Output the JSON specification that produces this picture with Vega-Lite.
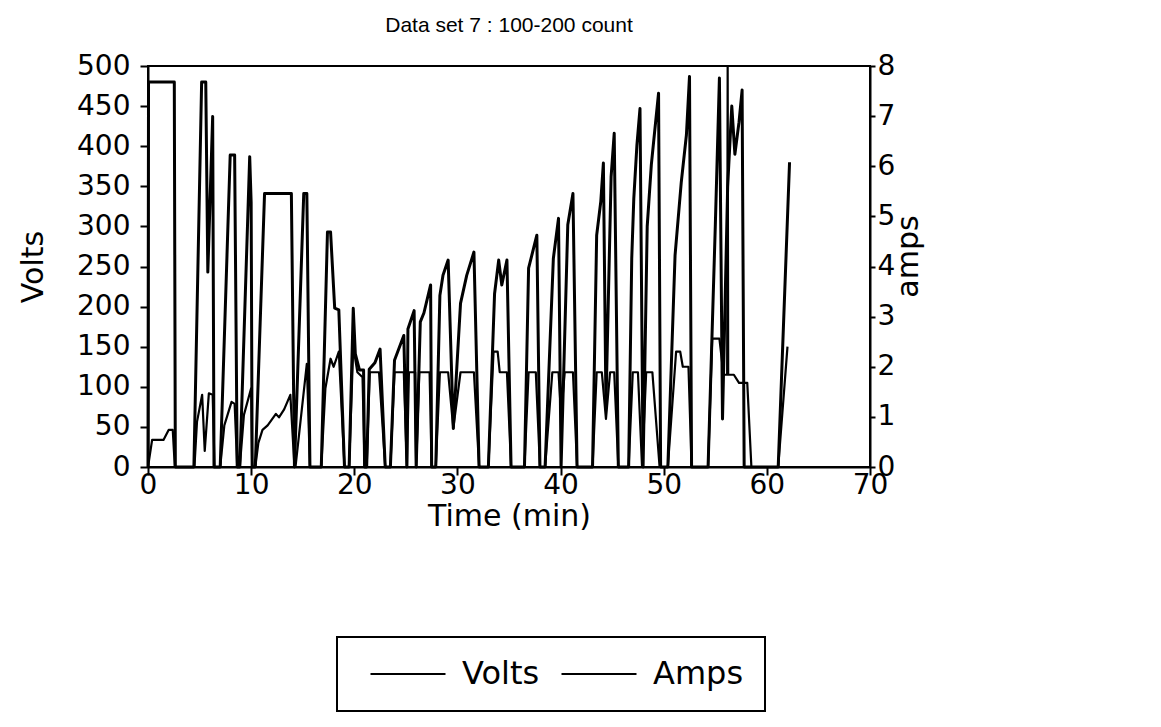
{
  "$schema": "https://vega.github.io/schema/vega-lite/v6.json",
  "width": 722,
  "height": 401,
  "autosize": {"type": "none"},
  "padding": {"left": 148, "top": 66, "right": 291, "bottom": 260},
  "background": "white",
  "config": {
    "font": "DejaVu Sans",
    "view": {"stroke": "black", "strokeWidth": 2},
    "axis": {
      "grid": false,
      "domainColor": "black",
      "domainWidth": 2,
      "tickColor": "black",
      "tickWidth": 2,
      "labelColor": "black",
      "titleColor": "black",
      "labelFont": "DejaVu Sans",
      "titleFont": "DejaVu Sans",
      "labelFontSize": 28,
      "titleFontSize": 30,
      "titleFontWeight": "normal"
    }
  },
  "title": {
    "text": "Data set 7 : 100-200 count",
    "fontSize": 21,
    "fontWeight": "normal",
    "font": "Liberation Sans",
    "color": "black",
    "anchor": "middle",
    "offset": 16
  },
  "datasets": {
    "volts": [
      {"t": 0, "v": 0}, {"t": 0.05, "v": 480}, {"t": 2.55, "v": 480}, {"t": 2.65, "v": 0},
      {"t": 4.45, "v": 0}, {"t": 5.2, "v": 480}, {"t": 5.6, "v": 480}, {"t": 5.8, "v": 243}, {"t": 6.27, "v": 437}, {"t": 6.4, "v": 0},
      {"t": 7.0, "v": 0}, {"t": 7.97, "v": 389}, {"t": 8.4, "v": 389}, {"t": 8.65, "v": 0},
      {"t": 8.9, "v": 0}, {"t": 9.86, "v": 387}, {"t": 10.0, "v": 330}, {"t": 10.1, "v": 0},
      {"t": 10.4, "v": 0}, {"t": 11.3, "v": 341}, {"t": 13.9, "v": 341}, {"t": 14.2, "v": 0},
      {"t": 15.1, "v": 341}, {"t": 15.4, "v": 341}, {"t": 15.7, "v": 0},
      {"t": 16.8, "v": 0}, {"t": 17.4, "v": 293}, {"t": 17.7, "v": 293}, {"t": 18.1, "v": 198}, {"t": 18.5, "v": 196}, {"t": 19.05, "v": 0},
      {"t": 19.5, "v": 0}, {"t": 19.9, "v": 198}, {"t": 20.1, "v": 141}, {"t": 20.5, "v": 121}, {"t": 20.9, "v": 121}, {"t": 21.0, "v": 0},
      {"t": 21.2, "v": 0}, {"t": 21.45, "v": 122}, {"t": 22.0, "v": 130}, {"t": 22.5, "v": 147}, {"t": 23.0, "v": 0},
      {"t": 23.5, "v": 0}, {"t": 23.9, "v": 133}, {"t": 24.8, "v": 164}, {"t": 25.1, "v": 0},
      {"t": 25.2, "v": 172}, {"t": 25.8, "v": 195}, {"t": 26.0, "v": 0},
      {"t": 26.4, "v": 181}, {"t": 26.75, "v": 192}, {"t": 27.4, "v": 227}, {"t": 27.5, "v": 0},
      {"t": 27.9, "v": 0}, {"t": 28.3, "v": 214}, {"t": 28.6, "v": 239}, {"t": 29.1, "v": 258}, {"t": 29.6, "v": 48},
      {"t": 30.3, "v": 204}, {"t": 30.9, "v": 239}, {"t": 31.6, "v": 268}, {"t": 32.1, "v": 0},
      {"t": 33.0, "v": 0}, {"t": 33.6, "v": 216}, {"t": 34.0, "v": 258}, {"t": 34.3, "v": 227}, {"t": 34.8, "v": 258}, {"t": 35.2, "v": 0},
      {"t": 36.5, "v": 0}, {"t": 36.9, "v": 248}, {"t": 37.7, "v": 289}, {"t": 38.0, "v": 0},
      {"t": 38.5, "v": 0}, {"t": 39.3, "v": 260}, {"t": 39.8, "v": 310}, {"t": 40.05, "v": 0},
      {"t": 40.7, "v": 302}, {"t": 41.2, "v": 341}, {"t": 41.6, "v": 0},
      {"t": 43.1, "v": 0}, {"t": 43.5, "v": 289}, {"t": 43.9, "v": 331}, {"t": 44.15, "v": 379}, {"t": 44.4, "v": 77},
      {"t": 44.9, "v": 362}, {"t": 45.2, "v": 416}, {"t": 45.6, "v": 0},
      {"t": 46.6, "v": 0}, {"t": 46.9, "v": 260}, {"t": 47.1, "v": 335}, {"t": 47.4, "v": 401}, {"t": 47.7, "v": 447}, {"t": 48.0, "v": 0},
      {"t": 48.4, "v": 300}, {"t": 48.8, "v": 377}, {"t": 49.15, "v": 422}, {"t": 49.5, "v": 466}, {"t": 49.7, "v": 0},
      {"t": 50.4, "v": 0}, {"t": 51.1, "v": 264}, {"t": 51.7, "v": 355}, {"t": 52.2, "v": 414}, {"t": 52.5, "v": 487}, {"t": 52.7, "v": 0},
      {"t": 54.3, "v": 0}, {"t": 55.0, "v": 300}, {"t": 55.4, "v": 485}, {"t": 55.7, "v": 60},
      {"t": 56.2, "v": 350}, {"t": 56.6, "v": 450}, {"t": 56.9, "v": 390}, {"t": 57.3, "v": 430}, {"t": 57.6, "v": 470}, {"t": 57.8, "v": 0},
      {"t": 61.1, "v": 0}, {"t": 62.2, "v": 380}
    ],
    "amps": [
      {"t": 0, "a": 0}, {"t": 0.4, "a": 0.54}, {"t": 1.5, "a": 0.54}, {"t": 2.0, "a": 0.74}, {"t": 2.4, "a": 0.74}, {"t": 2.6, "a": 0},
      {"t": 4.5, "a": 0}, {"t": 4.75, "a": 0.9}, {"t": 5.25, "a": 1.44}, {"t": 5.5, "a": 0.32}, {"t": 5.9, "a": 1.47}, {"t": 6.27, "a": 1.44}, {"t": 6.45, "a": 0},
      {"t": 7.0, "a": 0}, {"t": 7.4, "a": 0.83}, {"t": 8.1, "a": 1.3}, {"t": 8.4, "a": 1.26}, {"t": 8.65, "a": 0},
      {"t": 8.9, "a": 0}, {"t": 9.3, "a": 1.04}, {"t": 10.0, "a": 1.57}, {"t": 10.1, "a": 0},
      {"t": 10.4, "a": 0}, {"t": 10.7, "a": 0.48}, {"t": 11.1, "a": 0.74}, {"t": 11.6, "a": 0.83}, {"t": 12.4, "a": 1.06}, {"t": 12.7, "a": 0.99}, {"t": 13.2, "a": 1.15}, {"t": 13.8, "a": 1.44}, {"t": 14.2, "a": 0},
      {"t": 14.3, "a": 0}, {"t": 15.4, "a": 2.06}, {"t": 15.7, "a": 0},
      {"t": 16.8, "a": 0}, {"t": 17.2, "a": 1.57}, {"t": 17.7, "a": 2.16}, {"t": 18.0, "a": 2.0}, {"t": 18.5, "a": 2.3}, {"t": 19.05, "a": 0},
      {"t": 19.5, "a": 0}, {"t": 19.9, "a": 2.4}, {"t": 20.3, "a": 1.89}, {"t": 20.8, "a": 1.79}, {"t": 21.0, "a": 0},
      {"t": 21.2, "a": 0}, {"t": 21.5, "a": 1.89}, {"t": 22.4, "a": 1.89}, {"t": 23.0, "a": 0},
      {"t": 23.5, "a": 0}, {"t": 23.9, "a": 1.89}, {"t": 24.8, "a": 1.89}, {"t": 25.1, "a": 0},
      {"t": 25.3, "a": 1.89}, {"t": 25.9, "a": 1.89}, {"t": 26.0, "a": 0},
      {"t": 26.3, "a": 1.89}, {"t": 27.3, "a": 1.89}, {"t": 27.5, "a": 0},
      {"t": 27.9, "a": 0}, {"t": 28.3, "a": 1.89}, {"t": 29.1, "a": 1.89}, {"t": 29.6, "a": 0.77}, {"t": 30.3, "a": 1.89}, {"t": 31.6, "a": 1.89}, {"t": 32.1, "a": 0},
      {"t": 33.0, "a": 0}, {"t": 33.5, "a": 2.3}, {"t": 33.9, "a": 2.3}, {"t": 34.1, "a": 1.89}, {"t": 34.8, "a": 1.89}, {"t": 35.2, "a": 0},
      {"t": 36.5, "a": 0}, {"t": 36.9, "a": 1.89}, {"t": 37.6, "a": 1.89}, {"t": 38.0, "a": 0},
      {"t": 38.5, "a": 0}, {"t": 39.2, "a": 1.89}, {"t": 39.8, "a": 1.89}, {"t": 40.05, "a": 1.04}, {"t": 40.4, "a": 1.89}, {"t": 41.2, "a": 1.89}, {"t": 41.6, "a": 0},
      {"t": 43.1, "a": 0}, {"t": 43.5, "a": 1.89}, {"t": 44.0, "a": 1.89}, {"t": 44.4, "a": 0.96}, {"t": 44.8, "a": 1.89}, {"t": 45.2, "a": 1.89}, {"t": 45.6, "a": 0},
      {"t": 46.6, "a": 0}, {"t": 47.0, "a": 1.89}, {"t": 47.5, "a": 1.89}, {"t": 47.9, "a": 0}, {"t": 48.3, "a": 1.89}, {"t": 48.9, "a": 1.89}, {"t": 49.6, "a": 0},
      {"t": 50.4, "a": 0}, {"t": 51.2, "a": 2.3}, {"t": 51.6, "a": 2.3}, {"t": 51.85, "a": 2.0}, {"t": 52.4, "a": 2.0}, {"t": 52.7, "a": 0},
      {"t": 54.3, "a": 0}, {"t": 54.7, "a": 2.56}, {"t": 55.4, "a": 2.56}, {"t": 55.8, "a": 1.84}, {"t": 56.15, "a": 1.84}, {"t": 56.2, "a": 8}, {"t": 56.25, "a": 1.84}, {"t": 56.8, "a": 1.84},
      {"t": 57.3, "a": 1.68}, {"t": 58.1, "a": 1.68}, {"t": 58.5, "a": 0},
      {"t": 61.1, "a": 0}, {"t": 62.0, "a": 2.4}
    ]
  },
  "layer": [
    {
      "data": {"name": "volts"},
      "mark": {"type": "line", "strokeWidth": 3, "strokeJoin": "round"},
      "encoding": {
        "x": {
          "field": "t", "type": "quantitative",
          "scale": {"domain": [0, 70], "nice": false},
          "axis": {"title": "Time (min)", "values": [0, 10, 20, 30, 40, 50, 60, 70], "tickSize": 8, "labelPadding": -4, "titlePadding": 2, "labelFlush": false}
        },
        "y": {
          "field": "v", "type": "quantitative",
          "scale": {"domain": [0, 500], "nice": false},
          "axis": {"title": "Volts", "orient": "left", "values": [0, 50, 100, 150, 200, 250, 300, 350, 400, 450, 500], "tickSize": 8, "labelPadding": 10, "titlePadding": 28, "labelFlush": false}
        },
        "color": {
          "datum": "Volts", "type": "nominal",
          "scale": {"domain": ["Volts", "Amps"], "range": ["black", "black"]},
          "legend": {
            "orient": "none", "legendX": 189, "legendY": 571,
            "direction": "horizontal", "title": null,
            "symbolType": "M-0.28,0H5.72", "symbolSize": 625, "symbolStrokeWidth": 2,
            "symbolStrokeColor": "black", "symbolFillColor": "transparent",
            "labelFontSize": 32, "labelFont": "DejaVu Sans", "labelColor": "black",
            "labelOffset": 72, "columnPadding": 9,
            "strokeColor": "black", "fillColor": "white", "padding": 21,
            "encode": {"legend": {"update": {"strokeWidth": {"value": 2}}}}
          }
        }
      }
    },
    {
      "data": {"name": "amps"},
      "mark": {"type": "line", "strokeWidth": 2.2, "strokeJoin": "round"},
      "encoding": {
        "x": {"field": "t", "type": "quantitative"},
        "y": {
          "field": "a", "type": "quantitative",
          "scale": {"domain": [0, 8], "nice": false},
          "axis": {"title": "amps", "orient": "right", "titleAngle": 270, "titleX": 38, "titleY": 190, "titleAlign": "center", "titleBaseline": "middle", "values": [0, 1, 2, 3, 4, 5, 6, 7, 8], "tickSize": 5, "labelPadding": 2, "labelFlush": false}
        },
        "color": {"datum": "Amps", "type": "nominal"}
      }
    }
  ],
  "resolve": {"scale": {"y": "independent"}}
}
